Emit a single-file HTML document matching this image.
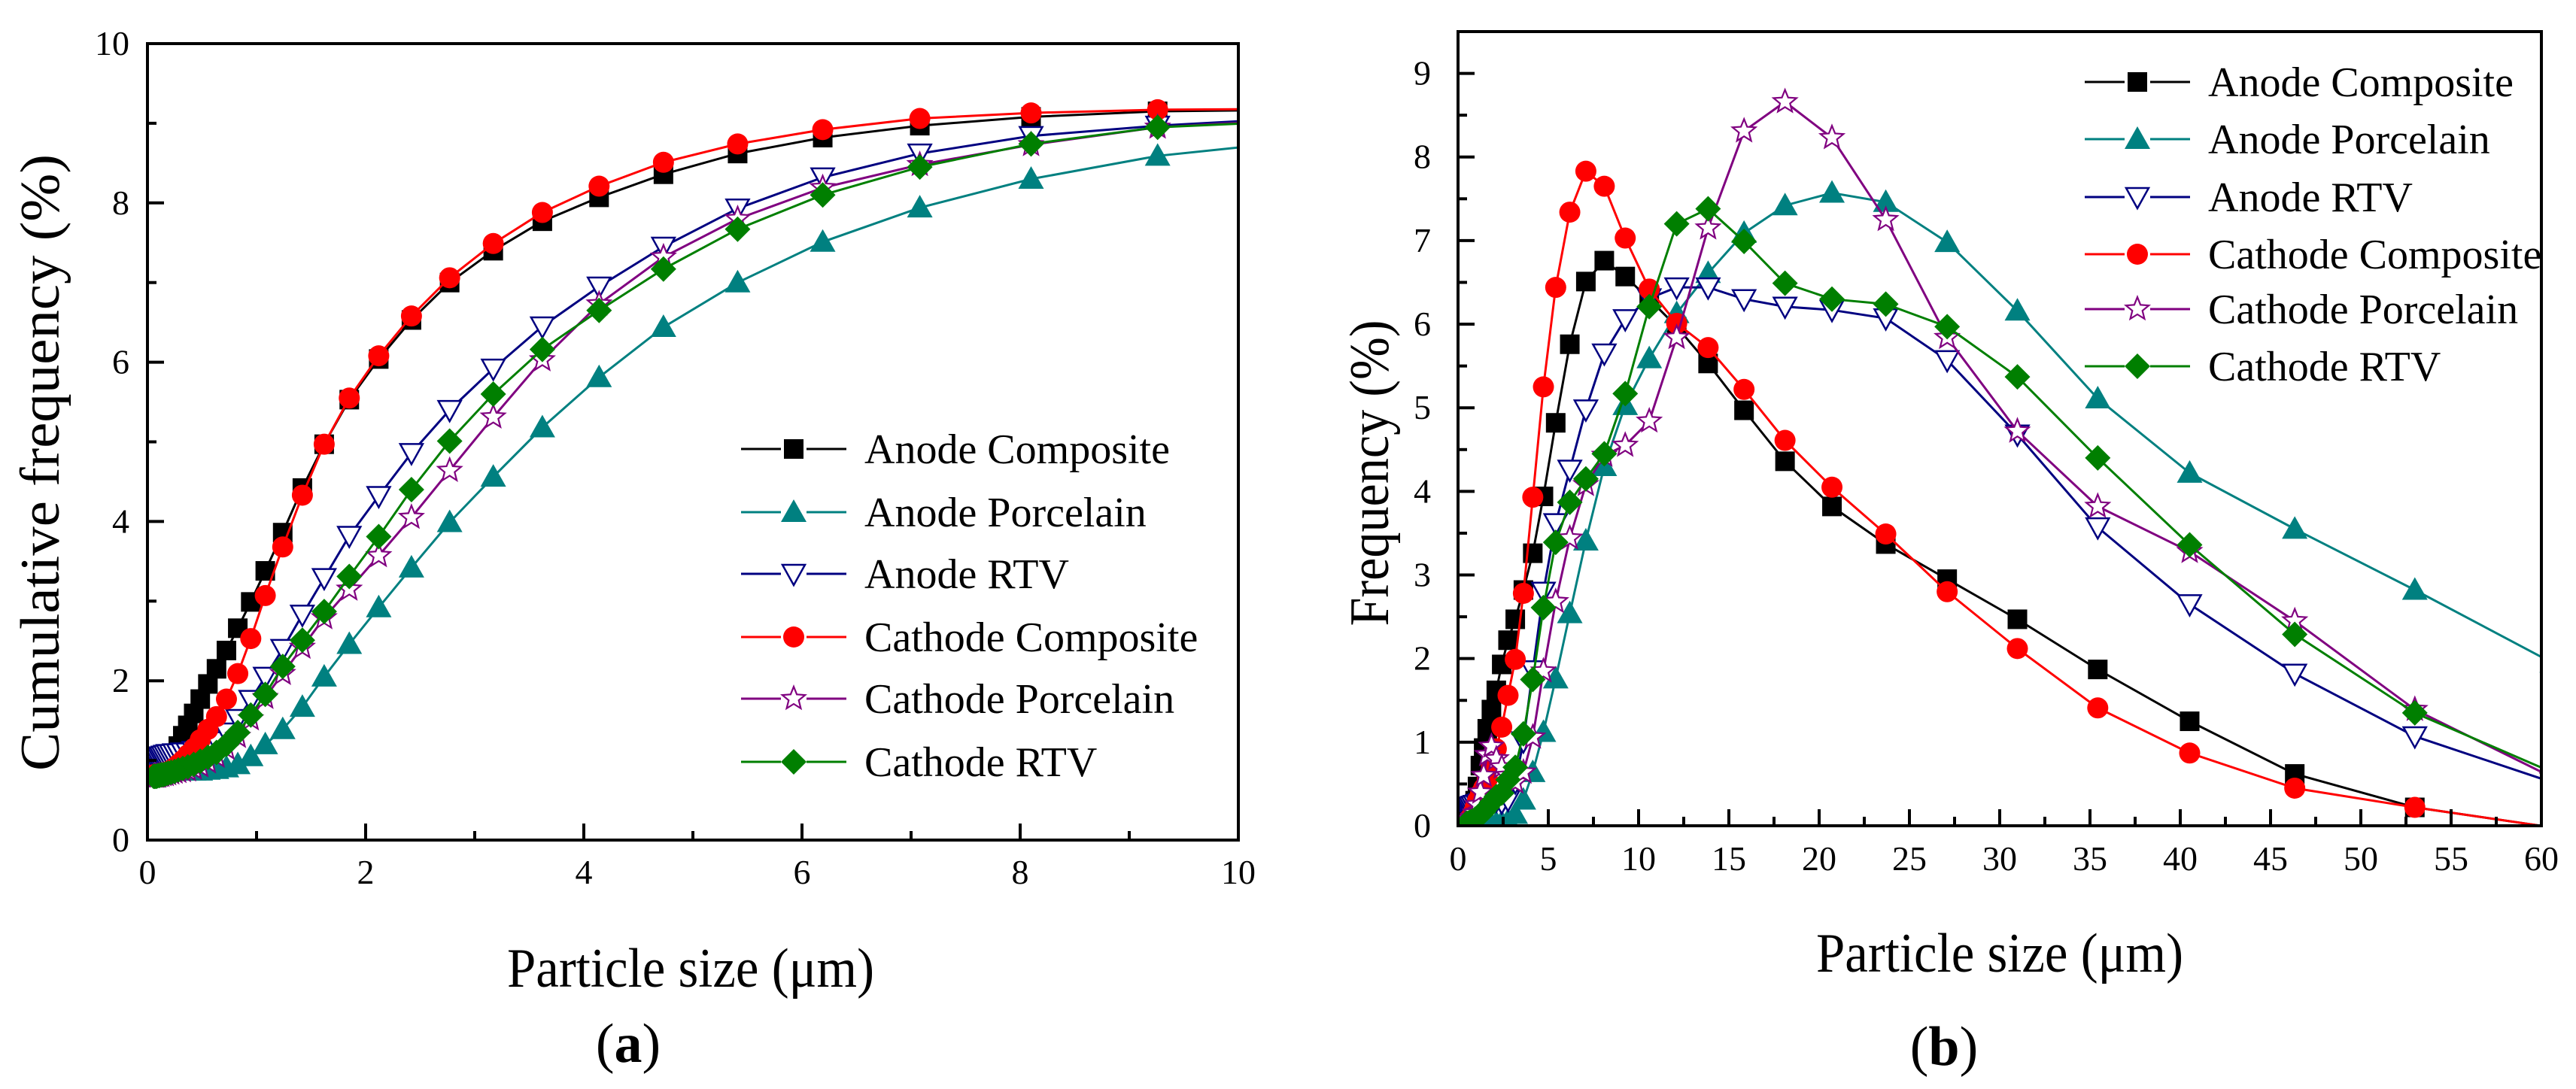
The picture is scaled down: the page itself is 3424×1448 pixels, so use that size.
<!DOCTYPE html>
<html><head><meta charset="utf-8"><style>
html,body{margin:0;padding:0;background:#fff;}
svg{display:block;font-family:"Liberation Serif",serif;}
</style></head><body>
<svg id="fig" width="3424" height="1448" viewBox="0 0 3424 1448" xmlns="http://www.w3.org/2000/svg">
<rect width="3424" height="1448" fill="#fff"/>
<defs>
<clipPath id="clipA"><rect x="196" y="58" width="1450" height="1059"/></clipPath>
<clipPath id="clipB"><rect x="1938" y="42" width="1440" height="1056"/></clipPath>
</defs>
<g id="chartA"></g>
<g id="chartB"></g>
</svg>
<script>
// ---------- Data: chart (a) cumulative ----------
const sizesA = [0.056,0.065,0.074,0.085,0.097,0.111,0.127,0.145,0.166,0.189,0.217,0.248,0.283,0.324,0.370,0.424,0.484,0.554,0.633,0.724,0.828,0.947,1.08,1.24,1.42,1.62,1.85,2.12,2.42,2.77,3.17,3.62,4.14,4.73,5.41,6.19,7.08,8.10,9.26,10.59];
const cumAnodeComposite = [0.83,0.84,0.84,0.85,0.85,0.86,0.87,0.89,0.92,0.96,1.02,1.09,1.18,1.31,1.44,1.59,1.77,1.96,2.15,2.38,2.66,2.99,3.38,3.86,4.42,4.97,5.53,6.04,6.53,7.0,7.40,7.77,8.07,8.36,8.62,8.82,8.97,9.08,9.15,9.17];
const cumAnodePorcelain = [0.85,0.85,0.85,0.85,0.86,0.86,0.86,0.86,0.86,0.86,0.87,0.87,0.87,0.87,0.87,0.87,0.87,0.88,0.89,0.91,0.95,1.05,1.20,1.39,1.67,2.05,2.46,2.92,3.42,3.99,4.56,5.18,5.81,6.44,7.00,7.51,7.94,8.30,8.59,8.78];
const cumAnodeRTV = [0.92,0.95,0.98,1.0,1.02,1.04,1.05,1.06,1.07,1.08,1.08,1.09,1.09,1.10,1.10,1.12,1.14,1.18,1.24,1.35,1.52,1.76,2.05,2.40,2.83,3.29,3.82,4.32,4.86,5.40,5.92,6.45,6.95,7.45,7.93,8.32,8.62,8.84,8.97,9.07];
const cumCathodeComposite = [0.82,0.82,0.82,0.82,0.83,0.83,0.84,0.84,0.85,0.86,0.88,0.91,0.95,1.0,1.07,1.15,1.26,1.39,1.55,1.77,2.09,2.53,3.07,3.68,4.33,4.97,5.55,6.08,6.58,7.06,7.49,7.88,8.21,8.51,8.74,8.92,9.06,9.13,9.17,9.18];
const cumCathodePorcelain = [0.80,0.80,0.80,0.80,0.80,0.81,0.81,0.82,0.82,0.83,0.84,0.85,0.86,0.87,0.88,0.90,0.93,0.98,1.05,1.15,1.30,1.52,1.79,2.09,2.42,2.79,3.15,3.57,4.05,4.64,5.31,6.03,6.73,7.32,7.80,8.19,8.48,8.73,8.95,9.05];
const cumCathodeRTV = [0.80,0.80,0.80,0.80,0.81,0.81,0.82,0.82,0.83,0.84,0.85,0.86,0.88,0.90,0.92,0.95,0.99,1.04,1.10,1.20,1.35,1.57,1.83,2.18,2.51,2.87,3.31,3.81,4.40,5.01,5.60,6.16,6.65,7.17,7.67,8.10,8.45,8.74,8.95,9.03];
const xTicksA = [0,2,4,6,8,10];
const yTicksA = [0,2,4,6,8,10];

// ---------- Data: chart (b) frequency ----------
const sizesB = [0.424,0.484,0.554,0.633,0.724,0.828,0.947,1.08,1.24,1.42,1.62,1.85,2.12,2.42,2.77,3.17,3.62,4.14,4.73,5.41,6.19,7.08,8.10,9.26,10.59,12.11,13.85,15.84,18.11,20.71,23.69,27.09,30.98,35.43,40.52,46.34,52.99,60.6];
const freqAnodeComposite = [0.02,0.03,0.05,0.08,0.12,0.2,0.3,0.47,0.72,0.93,1.16,1.39,1.62,1.93,2.22,2.47,2.82,3.26,3.94,4.82,5.76,6.51,6.76,6.57,6.30,5.97,5.53,4.97,4.36,3.82,3.37,2.95,2.47,1.87,1.25,0.62,0.22,-0.02];
const freqAnodePorcelain = [0.02,0.02,0.02,0.02,0.02,0.02,0.02,0.02,0.02,0.02,0.02,0.02,0.03,0.04,0.06,0.14,0.31,0.64,1.12,1.76,2.54,3.41,4.30,5.03,5.59,6.13,6.61,7.09,7.42,7.57,7.46,6.98,6.16,5.11,4.22,3.55,2.82,1.95];
const freqAnodeRTV = [0.2,0.2,0.21,0.22,0.23,0.24,0.25,0.26,0.27,0.28,0.29,0.3,0.3,0.28,0.31,0.52,1.01,1.86,2.80,3.62,4.26,4.98,5.65,6.06,6.31,6.44,6.44,6.30,6.21,6.17,6.07,5.57,4.68,3.57,2.65,1.82,1.07,0.52];
const freqCathodeComposite = [0.02,0.03,0.05,0.08,0.1,0.15,0.22,0.3,0.38,0.45,0.56,0.72,0.92,1.18,1.56,1.99,2.78,3.93,5.25,6.44,7.34,7.83,7.65,7.03,6.42,6.01,5.72,5.22,4.61,4.05,3.49,2.80,2.12,1.41,0.87,0.45,0.22,-0.02];
const freqCathodePorcelain = [0.05,0.05,0.06,0.07,0.08,0.1,0.15,0.25,0.4,0.6,0.85,0.95,0.8,0.7,0.6,0.52,0.64,1.06,1.85,2.68,3.44,4.08,4.43,4.55,4.84,5.84,7.15,8.31,8.66,8.23,7.25,5.84,4.72,3.82,3.28,2.45,1.39,0.58];
const freqCathodeRTV = [0.02,0.03,0.03,0.04,0.05,0.06,0.08,0.1,0.13,0.17,0.22,0.28,0.35,0.39,0.55,0.70,1.10,1.75,2.61,3.39,3.87,4.15,4.45,5.17,6.21,7.20,7.38,6.99,6.49,6.30,6.24,5.97,5.37,4.40,3.36,2.29,1.35,0.64];
const xTicksB = [0,5,10,15,20,25,30,35,40,45,50,55,60];
const yTicksB = [0,1,2,3,4,5,6,7,8,9];

const seriesNames = ["Anode Composite","Anode Porcelain","Anode RTV","Cathode Composite","Cathode Porcelain","Cathode RTV"];
const seriesColors = ["#000000","#008080","#000080","#ff0000","#800080","#007f00"];
const seriesMarkers = ["square","triUp","triDown","circle","star","diamond"];

const NS = "http://www.w3.org/2000/svg";
function mk(tag, attrs, parent){const e=document.createElementNS(NS,tag);for(const k in attrs)e.setAttribute(k,attrs[k]);if(parent)parent.appendChild(e);return e;}

function marker(g, type, cx, cy, color){
  let e;
  if(type==="square"){e=mk("rect",{x:cx-13,y:cy-13,width:26,height:26,fill:color},g);}
  else if(type==="triUp"){e=mk("polygon",{points:`${cx},${cy-17} ${cx+17},${cy+13} ${cx-17},${cy+13}`,fill:color},g);}
  else if(type==="triDown"){e=mk("polygon",{points:`${cx-15},${cy-12} ${cx+15},${cy-12} ${cx},${cy+15}`,fill:"#fff",stroke:color,"stroke-width":2.5},g);}
  else if(type==="circle"){e=mk("circle",{cx:cx,cy:cy,r:14,fill:color},g);}
  else if(type==="star"){let p=[];for(let i=0;i<10;i++){const r=i%2?7:16;const a=-Math.PI/2+i*Math.PI/5;p.push((cx+r*Math.cos(a)).toFixed(1)+","+(cy+r*Math.sin(a)).toFixed(1));}
    e=mk("polygon",{points:p.join(" "),fill:"#fff",stroke:color,"stroke-width":2.2},g);}
  else {e=mk("polygon",{points:`${cx},${cy-17} ${cx+17},${cy} ${cx},${cy+17} ${cx-17},${cy}`,fill:color},g);}
  
  
  return e;
}

function drawChart(cfg){
  const root=document.getElementById(cfg.id);
  const X=v=>cfg.x0+(v-cfg.xmin)/(cfg.xmax-cfg.xmin)*(cfg.x1-cfg.x0);
  const Y=v=>cfg.y0-(v-cfg.ymin)/(cfg.ymax-cfg.ymin)*(cfg.y0-cfg.y1);
  const plot=mk("g",{"clip-path":`url(#${cfg.clip})`},root);
  
  
  cfg.series.forEach((vals,si)=>{
    const g=mk("g",{},plot);
    
    
    const pts=vals.map((v,i)=>X(cfg.sizes[i]).toFixed(1)+","+Y(v).toFixed(1)).join(" ");
    const pl=mk("polyline",{points:pts,fill:"none",stroke:seriesColors[si],"stroke-width":3},g);
    
    
    vals.forEach((v,i)=>marker(g,seriesMarkers[si],X(cfg.sizes[i]),Y(v),seriesColors[si]));
  });
  const fr=mk("rect",{x:cfg.x0,y:cfg.y1,width:cfg.x1-cfg.x0,height:cfg.y0-cfg.y1,fill:"none",stroke:"#000","stroke-width":4},root);
  
  
  const xa=mk("g",{},root);
  
  
  cfg.xTicks.forEach((t,i)=>{
    mk("line",{x1:X(t),x2:X(t),y1:cfg.y0,y2:cfg.y0-22,stroke:"#000","stroke-width":4},xa);
    if(i<cfg.xTicks.length-1){const m=(t+cfg.xTicks[i+1])/2;mk("line",{x1:X(m),x2:X(m),y1:cfg.y0,y2:cfg.y0-12,stroke:"#000","stroke-width":4},xa);}
    const tx=mk("text",{x:X(t),y:cfg.xLabelY,"text-anchor":"middle","font-size":46},xa);
    tx.textContent=t;
    
    
  });
  const ya=mk("g",{},root);
  
  
  cfg.yTicks.forEach((t,i)=>{
    mk("line",{x1:cfg.x0,x2:cfg.x0+22,y1:Y(t),y2:Y(t),stroke:"#000","stroke-width":4},ya);
    if(i<cfg.yTicks.length-1){const m=(t+cfg.yTicks[i+1])/2;mk("line",{x1:cfg.x0,x2:cfg.x0+12,y1:Y(m),y2:Y(m),stroke:"#000","stroke-width":4},ya);}
    const tx=mk("text",{x:cfg.yLabelX,y:Y(t)+15,"text-anchor":"end","font-size":46},ya);
    tx.textContent=t;
    
    
  });
  const xt=mk("text",{x:cfg.xTitleX,y:cfg.xTitleY,"text-anchor":"middle","font-size":74,textLength:488,lengthAdjust:"spacingAndGlyphs"},root);
  xt.textContent="Particle size (\u03bcm)";
  
  
  const yt=mk("text",{x:0,y:0,"text-anchor":"middle","font-size":74,textLength:cfg.yTitleLen,lengthAdjust:"spacingAndGlyphs",transform:`translate(${cfg.yTitleX},${cfg.yTitleY}) rotate(-90)`},root);
  yt.textContent=cfg.yTitle;
  
  
  const pt=mk("text",{x:cfg.panelX,y:cfg.panelY,"text-anchor":"middle","font-size":74},root);
  pt.innerHTML=`(<tspan font-weight="bold">${cfg.panel}</tspan>)`;
  
  
  const lg=mk("g",{},root);
  
  
  seriesNames.forEach((n,si)=>{
    const y=cfg.legY[si];
    const le=mk("g",{},lg);
    
    
    mk("line",{x1:cfg.legX0,x2:cfg.legX0+140,y1:y,y2:y,stroke:seriesColors[si],"stroke-width":3},le);
    mk("rect",{x:cfg.legX0+53,y:y-20,width:34,height:40,fill:"#fff"},le);
    marker(le,seriesMarkers[si],cfg.legX0+70,y,seriesColors[si]);
    const t=mk("text",{x:cfg.legX0+164,y:y+19,"font-size":56},le);
    t.textContent=n;
  });
}

drawChart({id:"chartA",clip:"clipA",x0:196,x1:1646,y0:1117,y1:58,xmin:0,xmax:10,ymin:0,ymax:10,
  sizes:sizesA,series:[cumAnodeComposite,cumAnodePorcelain,cumAnodeRTV,cumCathodeComposite,cumCathodePorcelain,cumCathodeRTV],
  xTicks:xTicksA,yTicks:yTicksA,xLabelY:1175,yLabelX:172,
  xTitleX:918,xTitleY:1312,yTitle:"Cumulative frequency (%)",yTitleLen:820,yTitleX:78,yTitleY:615,
  panel:"a",panelX:835,panelY:1412,legX0:985,legY:[597,681,763,847,929,1013]});
drawChart({id:"chartB",clip:"clipB",x0:1938,x1:3378,y0:1098,y1:42,xmin:0,xmax:60,ymin:0,ymax:9.5,
  sizes:sizesB,series:[freqAnodeComposite,freqAnodePorcelain,freqAnodeRTV,freqCathodeComposite,freqCathodePorcelain,freqCathodeRTV],
  xTicks:xTicksB,yTicks:yTicksB,xLabelY:1157,yLabelX:1902,
  xTitleX:2658,xTitleY:1292,yTitle:"Frequency (%)",yTitleLen:407,yTitleX:1845,yTitleY:629,
  panel:"b",panelX:2584,panelY:1416,legX0:2771,legY:[109,185,262,338,411,487]});
</script>
</body></html>
